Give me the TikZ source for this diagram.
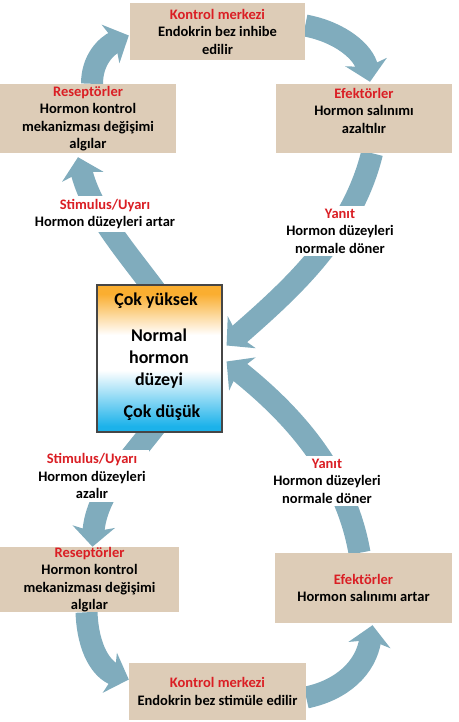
\documentclass[tikz,border=0pt]{standalone}
\usepackage{fontspec}
\setmainfont{Carlito}
\usetikzlibrary{arrows.meta,backgrounds}
\definecolor{boxtan}{RGB}{221,204,183}
\definecolor{flowblue}{RGB}{128,172,189}
\definecolor{headred}{RGB}{218,30,36}
\definecolor{highorange}{RGB}{250,174,48}
\definecolor{lowblue}{RGB}{28,178,234}
\definecolor{rimgray}{RGB}{70,70,70}
\pgfdeclareverticalshading{levelshade}{100bp}{color(0bp)=(lowblue); color(27bp)=(lowblue); color(46bp)=(white); color(58bp)=(white); color(72bp)=(highorange); color(100bp)=(highorange)}
\newcommand{\boxhead}[1]{\textcolor{headred}{#1}}

\begin{document}
\begin{tikzpicture}[x=1pt, y=-1pt,
    stepbox/.style={fill=boxtan, inner sep=0pt, align=center, font=\fontsize{14.5}{17.5}\selectfont\bfseries},
    tag/.style={fill=white, inner sep=3pt, align=center, font=\fontsize{14.5}{17.5}\selectfont\bfseries},
    level text/.style={align=center, inner sep=0pt, font=\fontsize{18}{22}\selectfont\bfseries},
    flow/.style={draw=flowblue, line width=22pt, -{Stealth[width=42pt,length=20pt,inset=5pt]}}]
    \useasboundingbox (0,0) rectangle (458,722);

    \node[stepbox, minimum width=175pt, minimum height=57pt] (ktop) at (217.5,31.5) {\boxhead{Kontrol merkezi}\\Endokrin bez inhibe\\edilir};
    \node[stepbox, minimum width=176pt, minimum height=69pt] (rtop) at (88,118.5) {\boxhead{Reseptörler}\\Hormon kontrol\\mekanizması değişimi\\algılar};
    \node[stepbox, minimum width=176pt, minimum height=69pt] (etop) at (364,118.5) {\boxhead{Efektörler}\\Hormon salınımı\\azaltılır\rule[-16pt]{0pt}{0pt}};

    \node[draw=rimgray, line width=1.2pt, shade, shading=levelshade, minimum width=125pt, minimum height=147pt, inner sep=0pt] (level) at (159.5,358.5) {};
    \node[level text] (high) at (156,301) {Çok yüksek};
    \node[level text] (normal) at (159,359) {Normal\\hormon\\düzeyi};
    \node[level text] (low) at (162,413) {Çok düşük};

    \node[stepbox, minimum width=179pt, minimum height=65pt] (rbot) at (89.5,579.5) {\boxhead{Reseptörler}\\Hormon kontrol\\mekanizması değişimi\\algılar};
    \node[stepbox, minimum width=177pt, minimum height=70pt] (ebot) at (363.5,588) {\boxhead{Efektörler}\\Hormon salınımı artar};
    \node[stepbox, minimum width=177pt, minimum height=57pt] (kbot) at (217.5,691.5) {\boxhead{Kontrol merkezi}\\Endokrin bez stimüle edilir};

    \node[tag] (stimA) at (105,214) {\boxhead{Stimulus/Uyarı}\\Hormon düzeyleri artar};
    \node[tag] (yanitA) at (340,231) {\boxhead{Yanıt}\\Hormon düzeyleri\\normale döner};
    \node[tag] (stimB) at (92,476) {\boxhead{Stimulus/Uyarı}\\Hormon düzeyleri\\azalır};
    \node[tag] (yanitB) at (327,481) {\boxhead{Yanıt}\\Hormon düzeyleri\\normale döner};

    \begin{scope}[on background layer]
        \draw[flow] ([xshift=4pt]rtop.north) .. controls (92,60) and (106,46) .. ([xshift=-1pt,yshift=-4pt]ktop.west);
        \draw[flow] ([yshift=6pt]ktop.east) .. controls (340,32) and (364,52) .. ([xshift=6pt,yshift=2pt]etop.north);
        \draw[flow] ([xshift=8pt]etop.south) .. controls (352,235) and (290,290) .. ([xshift=4pt,yshift=13pt]level.east);
        \draw[flow] ([xshift=6pt,yshift=-20pt]level.north) .. controls (130,255) and (92,215) .. ([xshift=-10pt,yshift=-4pt]rtop.south);
        \draw[flow] ([xshift=6pt,yshift=20pt]level.south) .. controls (135,455) and (96,490) .. ([xshift=3pt]rbot.north);
        \draw[flow] ([xshift=-3pt]rbot.south) .. controls (88,650) and (102,670) .. ([yshift=12pt]kbot.west);
        \draw[flow] ([yshift=-6pt]kbot.east) .. controls (342,690) and (366,668) .. ([xshift=9pt,yshift=-2pt]ebot.south);
        \draw[flow] ([xshift=-4pt]ebot.north) .. controls (345,470) and (290,412) .. ([xshift=4pt,yshift=-3pt]level.east);
    \end{scope}
\end{tikzpicture}
\end{document}
